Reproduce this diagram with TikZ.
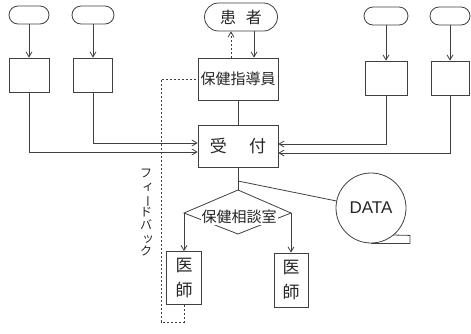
\documentclass[tikz,border=0pt]{standalone}
\usepackage{fontspec}
\setmainfont{Liberation Sans}
\newfontfamily\jp{Noto Sans CJK JP}
\usetikzlibrary{shapes.misc,arrows.meta}
\newcommand{\smallkana}[1]{\hspace*{4pt}#1}
\begin{document}
\begin{tikzpicture}[x=1pt,y=-1pt,line width=0.8pt,
  every node/.style={text=black!85},
  term/.style={draw=black!75, rounded rectangle, inner sep=0pt, minimum height=18pt},
  box/.style={draw=black!75, rectangle, inner sep=0pt},
  ln/.style={draw=black!75},
  arr/.style={draw=black!75, -{Straight Barb[length=5pt,width=6pt]}},
  fb/.style={draw=black!75, dash pattern=on 2pt off 2pt},
  j15/.style={font=\jp\fontsize{15}{15}\selectfont},
  j17/.style={font=\jp\fontsize{17}{25}\selectfont}]
\useasboundingbox (0,0) rectangle (471,333);
% terminals
\node[term, minimum width=40pt] (t1) at (29,15) {};
\node[term, minimum width=42pt] (t2) at (93,15) {};
\node[term, minimum width=73pt, minimum height=28pt, font=\jp\fontsize{16}{16}\selectfont] (kanja) at (241,17) {患\hspace{0.6em}者};
\node[term, minimum width=44pt] (t3) at (386,16) {};
\node[term, minimum width=40pt] (t4) at (450,16) {};
% boxes
\node[box, minimum width=40pt, minimum height=34pt] (b1) at (29,75) {};
\node[box, minimum width=39pt, minimum height=34pt] (b2) at (93,75) {};
\node[box, minimum width=80pt, minimum height=42pt, j15] (shido) at (238,79) {保健指導員};
\node[box, minimum width=42pt, minimum height=34pt] (b3) at (386,78) {};
\node[box, minimum width=38pt, minimum height=34pt] (b4) at (450,78) {};
\node[box, minimum width=80pt, minimum height=42pt, j17] (uke) at (238,146) {受\hspace{1.3em}付};
% arrows into boxes
\draw[arr] (t1) -- (b1);
\draw[arr] (t2) -- (b2);
\draw[arr] (t3) -- (b3);
\draw[arr] (t4) -- (b4);
\draw[arr] ([xshift=13pt]kanja.south) -- ([xshift=13pt]kanja.south |- shido.north);
\draw[arr, fb] ([xshift=-7pt]shido.north) -- ([xshift=-7pt]shido.north |- kanja.south);
% into reception
\draw[arr] (b1.south) |- ([yshift=-6pt]uke.west);
\draw[arr] (b2.south) |- ([yshift=3pt]uke.west);
\draw[arr] (b3.south) |- ([yshift=2pt]uke.east);
\draw[arr] (b4.south) |- ([yshift=-7pt]uke.east);
\draw[ln] (shido.south) -- (uke.north);
% consultation diamond
\coordinate (dt) at (238,190);
\coordinate (dl) at (184,213);
\coordinate (dr) at (291,213);
\coordinate (db) at (238,234);
\coordinate (jn) at (238,181);
\draw[ln] (uke.south) -- (dt);
\draw[ln] (dt) -- (dr) -- (db) -- (dl) -- cycle;
\node[fill=white, inner sep=1pt, j15] (soudan) at (239,217) {保健相談室};
% data
\node[draw=black!75, circle, minimum size=70pt, inner sep=0pt, font=\fontsize{17}{17}\selectfont] (data) at (371,208) {DATA};
\draw[ln] (jn) -- (data);
\draw[ln] (data.south) -- ++(39,0) -- ++(0,-8) -- (393,235);
% doctors
\node[box, minimum width=35pt, minimum height=53pt, align=center, j17] (i1) at (184,278) {医\\師};
\node[box, minimum width=34pt, minimum height=54pt, align=center, j17] (i2) at (291,280) {医\\師};
\draw[arr] (dl) -- (dl |- i1.north);
\draw[arr] (dr) -- (dr |- i2.north);
% feedback
\coordinate (f1) at (161,322);
\draw[fb] (i1.south) |- (f1) |- (shido.west);
\node[align=center, font=\jp\fontsize{12}{13}\selectfont] (fbtext) at (146,213)
  {フ\\\smallkana{ィ}\\\rotatebox[origin=c]{-90}{ー}\\ド\\バ\\\smallkana{ッ}\\ク};
\end{tikzpicture}
\end{document}
